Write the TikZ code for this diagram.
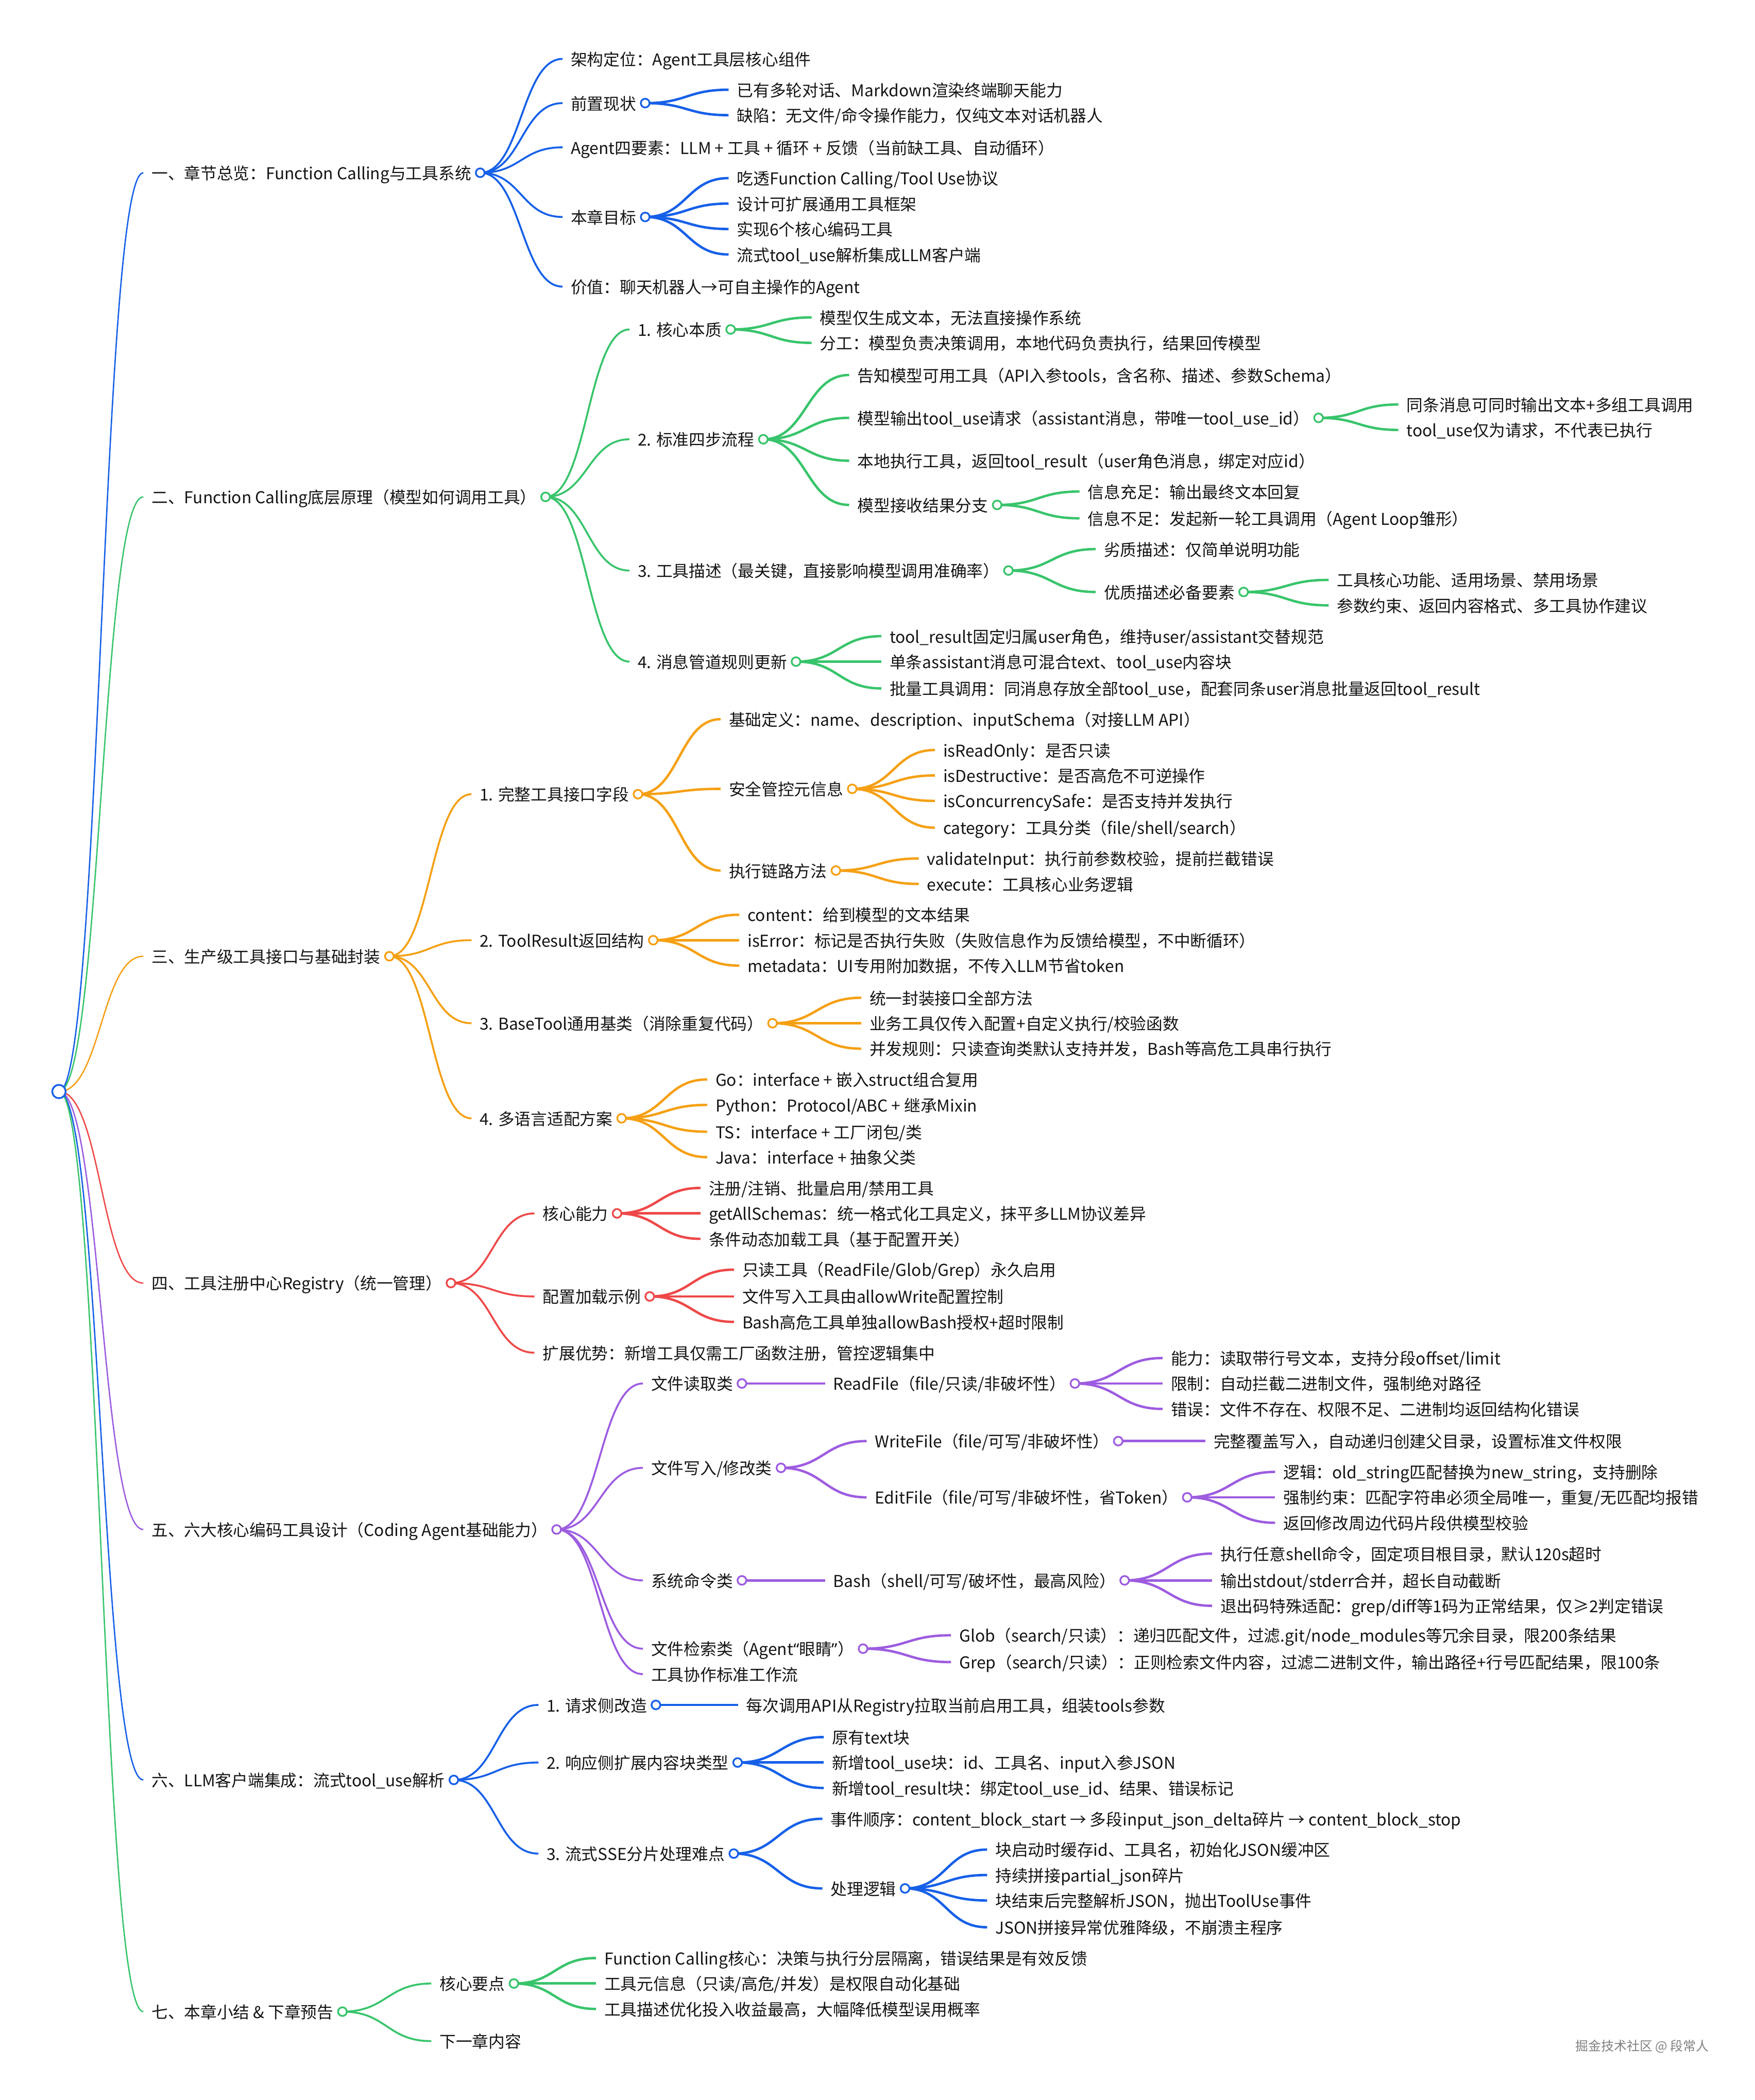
\documentclass[tikz,border=0pt]{standalone}
\usepackage{fontspec}
\setmainfont{Noto Sans CJK SC}
\newfontfamily\latinq{Noto Sans}
\usetikzlibrary{calc}
\pgfdeclarelayer{back}
\pgfdeclarelayer{bg}
\pgfsetlayers{back,bg,main}
\definecolor{cB}{RGB}{22,96,232}
\definecolor{cG}{RGB}{56,196,107}
\definecolor{cO}{RGB}{245,160,20}
\definecolor{cR}{RGB}{238,72,72}
\definecolor{cP}{RGB}{157,92,224}
\definecolor{ink}{RGB}{20,20,20}
\tikzset{
  txt/.style={anchor=west, inner sep=0pt, text height=12pt, text depth=2pt,
    font=\fontsize{12.2}{14}\selectfont, text=ink},
  dot/.style={circle, fill=white, inner sep=0pt, minimum size=6.5pt, line width=1.3pt},
  rootdot/.style={circle, draw=cB, fill=white, inner sep=0pt, minimum size=10pt, line width=1.3pt},
  w1/.style={line width=1.0pt},
  w2/.style={line width=1.4pt},
  w3/.style={line width=1.8pt},
  w4/.style={line width=1.8pt},
}
\newcommand\mmT[4]{\node[txt] (#1) at (#2,#3) {#4};}
\newcommand\mmC[2]{\node[dot,draw=#2] (#1-o) at ($(#1.east)+(6.5,0)$) {};}
\newcommand\mmL[3]{\begin{pgfonlayer}{bg}\draw[#3] let \p1=(#1), \p2=($(#2.west)+(-6,0)$) in
  (\p1) .. controls ({0.5*\x1+0.5*\x2},\y1) and ({0.5*\x1+0.5*\x2},\y2) .. (\p2);\end{pgfonlayer}}
\begin{document}
\begin{tikzpicture}[x=1pt,y=-1pt]
\begin{pgfonlayer}{back}
\fill[white] (0,0) rectangle (1310,1568);
\end{pgfonlayer}
\useasboundingbox (0,0) rectangle (1310,1568);

\node[rootdot] (root) at (44,815) {};

% ---------------- Branch 1 (blue)
\mmT{n1}{113}{129}{一、章节总览：Function Calling与工具系统}\mmC{n1}{cB}
\mmT{n1a}{426}{44}{架构定位：Agent工具层核心组件}
\mmT{n1b}{426}{77}{前置现状}\mmC{n1b}{cB}
\mmT{n1b1}{550}{67}{已有多轮对话、Markdown渲染终端聊天能力}
\mmT{n1b2}{550}{86}{缺陷：无文件/命令操作能力，仅纯文本对话机器人}
\mmT{n1c}{426}{110}{Agent四要素：LLM + 工具 + 循环 + 反馈（当前缺工具、自动循环）}
\mmT{n1d}{426}{162}{本章目标}\mmC{n1d}{cB}
\mmT{n1d1}{550}{133}{吃透Function Calling/Tool Use协议}
\mmT{n1d2}{550}{152}{设计可扩展通用工具框架}
\mmT{n1d3}{550}{171}{实现6个核心编码工具}
\mmT{n1d4}{550}{190}{流式tool\_use解析集成LLM客户端}
\mmT{n1e}{426}{214}{价值：聊天机器人→可自主操作的Agent}

\mmL{root}{n1}{cB,w1}
\mmL{n1-o}{n1a}{cB,w2}\mmL{n1-o}{n1b}{cB,w2}\mmL{n1-o}{n1c}{cB,w2}\mmL{n1-o}{n1d}{cB,w2}\mmL{n1-o}{n1e}{cB,w2}
\mmL{n1b-o}{n1b1}{cB,w3}\mmL{n1b-o}{n1b2}{cB,w3}
\mmL{n1d-o}{n1d1}{cB,w3}\mmL{n1d-o}{n1d2}{cB,w3}\mmL{n1d-o}{n1d3}{cB,w3}\mmL{n1d-o}{n1d4}{cB,w3}

% ---------------- Branch 2 (green)
\mmT{n2}{113}{371}{二、Function Calling底层原理（模型如何调用工具）}\mmC{n2}{cG}
\mmT{n2a}{476}{246}{1. 核心本质}\mmC{n2a}{cG}
\mmT{n2a1}{612}{237}{模型仅生成文本，无法直接操作系统}
\mmT{n2a2}{612}{256}{分工：模型负责决策调用，本地代码负责执行，结果回传模型}
\mmT{n2b}{476}{328}{2. 标准四步流程}\mmC{n2b}{cG}
\mmT{n2b1}{640}{280}{告知模型可用工具（API入参tools，含名称、描述、参数Schema）}
\mmT{n2b2}{640}{312}{模型输出tool\_use请求（assistant消息，带唯一tool\_use\_id）}\mmC{n2b2}{cG}
\mmT{n2b2a}{1050}{302}{同条消息可同时输出文本+多组工具调用}
\mmT{n2b2b}{1050}{321}{tool\_use仅为请求，不代表已执行}
\mmT{n2b3}{640}{344}{本地执行工具，返回tool\_result（user角色消息，绑定对应id）}
\mmT{n2b4}{640}{377}{模型接收结果分支}\mmC{n2b4}{cG}
\mmT{n2b4a}{812}{367}{信息充足：输出最终文本回复}
\mmT{n2b4b}{812}{387}{信息不足：发起新一轮工具调用（Agent Loop雏形）}
\mmT{n2c}{476}{426}{3. 工具描述（最关键，直接影响模型调用准确率）}\mmC{n2c}{cG}
\mmT{n2c1}{824}{410}{劣质描述：仅简单说明功能}
\mmT{n2c2}{824}{442}{优质描述必备要素}\mmC{n2c2}{cG}
\mmT{n2c2a}{998}{433}{工具核心功能、适用场景、禁用场景}
\mmT{n2c2b}{998}{452}{参数约束、返回内容格式、多工具协作建议}
\mmT{n2d}{476}{494}{4. 消息管道规则更新}\mmC{n2d}{cG}
\mmT{n2d1}{664}{475}{tool\_result固定归属user角色，维持user/assistant交替规范}
\mmT{n2d2}{664}{494}{单条assistant消息可混合text、tool\_use内容块}
\mmT{n2d3}{664}{514}{批量工具调用：同消息存放全部tool\_use，配套同条user消息批量返回tool\_result}

\mmL{root}{n2}{cG,w1}
\mmL{n2-o}{n2a}{cG,w2}\mmL{n2-o}{n2b}{cG,w2}\mmL{n2-o}{n2c}{cG,w2}\mmL{n2-o}{n2d}{cG,w2}
\mmL{n2a-o}{n2a1}{cG,w3}\mmL{n2a-o}{n2a2}{cG,w3}
\mmL{n2b-o}{n2b1}{cG,w3}\mmL{n2b-o}{n2b2}{cG,w3}\mmL{n2b-o}{n2b3}{cG,w3}\mmL{n2b-o}{n2b4}{cG,w3}
\mmL{n2b2-o}{n2b2a}{cG,w4}\mmL{n2b2-o}{n2b2b}{cG,w4}
\mmL{n2b4-o}{n2b4a}{cG,w4}\mmL{n2b4-o}{n2b4b}{cG,w4}
\mmL{n2c-o}{n2c1}{cG,w3}\mmL{n2c-o}{n2c2}{cG,w3}
\mmL{n2c2-o}{n2c2a}{cG,w4}\mmL{n2c2-o}{n2c2b}{cG,w4}
\mmL{n2d-o}{n2d1}{cG,w3}\mmL{n2d-o}{n2d2}{cG,w3}\mmL{n2d-o}{n2d3}{cG,w3}

% ---------------- Branch 3 (orange)
\mmT{n3}{113}{714}{三、生产级工具接口与基础封装}\mmC{n3}{cO}
\mmT{n3a}{358}{593}{1. 完整工具接口字段}\mmC{n3a}{cO}
\mmT{n3a1}{544}{537}{基础定义：name、description、inputSchema（对接LLM API）}
\mmT{n3a2}{544}{589}{安全管控元信息}\mmC{n3a2}{cO}
\mmT{n3a2a}{704}{560}{isReadOnly：是否只读}
\mmT{n3a2b}{704}{579}{isDestructive：是否高危不可逆操作}
\mmT{n3a2c}{704}{598}{isConcurrencySafe：是否支持并发执行}
\mmT{n3a2d}{704}{618}{category：工具分类（file/shell/search）}
\mmT{n3a3}{544}{650}{执行链路方法}\mmC{n3a3}{cO}
\mmT{n3a3a}{692}{641}{validateInput：执行前参数校验，提前拦截错误}
\mmT{n3a3b}{692}{660}{execute：工具核心业务逻辑}
\mmT{n3b}{358}{702}{2. ToolResult返回结构}\mmC{n3b}{cO}
\mmT{n3b1}{558}{683}{content：给到模型的文本结果}
\mmT{n3b2}{558}{702}{isError：标记是否执行失败（失败信息作为反馈给模型，不中断循环）}
\mmT{n3b3}{558}{721}{metadata：UI专用附加数据，不传入LLM节省token}
\mmT{n3c}{358}{764}{3. BaseTool通用基类（消除重复代码）}\mmC{n3c}{cO}
\mmT{n3c1}{649}{745}{统一封装接口全部方法}
\mmT{n3c2}{649}{764}{业务工具仅传入配置+自定义执行/校验函数}
\mmT{n3c3}{649}{783}{并发规则：只读查询类默认支持并发，Bash等高危工具串行执行}
\mmT{n3d}{358}{835}{4. 多语言适配方案}\mmC{n3d}{cO}
\mmT{n3d1}{534}{806}{Go：interface + 嵌入struct组合复用}
\mmT{n3d2}{534}{825}{Python：Protocol/ABC + 继承Mixin}
\mmT{n3d3}{534}{845}{TS：interface + 工厂闭包/类}
\mmT{n3d4}{534}{864}{Java：interface + 抽象父类}

\mmL{root}{n3}{cO,w1}
\mmL{n3-o}{n3a}{cO,w2}\mmL{n3-o}{n3b}{cO,w2}\mmL{n3-o}{n3c}{cO,w2}\mmL{n3-o}{n3d}{cO,w2}
\mmL{n3a-o}{n3a1}{cO,w3}\mmL{n3a-o}{n3a2}{cO,w3}\mmL{n3a-o}{n3a3}{cO,w3}
\mmL{n3a2-o}{n3a2a}{cO,w4}\mmL{n3a2-o}{n3a2b}{cO,w4}\mmL{n3a2-o}{n3a2c}{cO,w4}\mmL{n3a2-o}{n3a2d}{cO,w4}
\mmL{n3a3-o}{n3a3a}{cO,w4}\mmL{n3a3-o}{n3a3b}{cO,w4}
\mmL{n3b-o}{n3b1}{cO,w3}\mmL{n3b-o}{n3b2}{cO,w3}\mmL{n3b-o}{n3b3}{cO,w3}
\mmL{n3c-o}{n3c1}{cO,w3}\mmL{n3c-o}{n3c2}{cO,w3}\mmL{n3c-o}{n3c3}{cO,w3}
\mmL{n3d-o}{n3d1}{cO,w3}\mmL{n3d-o}{n3d2}{cO,w3}\mmL{n3d-o}{n3d3}{cO,w3}\mmL{n3d-o}{n3d4}{cO,w3}

% ---------------- Branch 4 (red)
\mmT{n4}{113}{958}{四、工具注册中心Registry（统一管理）}\mmC{n4}{cR}
\mmT{n4a}{405}{906}{核心能力}\mmC{n4a}{cR}
\mmT{n4a1}{529}{887}{注册/注销、批量启用/禁用工具}
\mmT{n4a2}{529}{906}{getAllSchemas：统一格式化工具定义，抹平多LLM协议差异}
\mmT{n4a3}{529}{925}{条件动态加载工具（基于配置开关）}
\mmT{n4b}{405}{968}{配置加载示例}\mmC{n4b}{cR}
\mmT{n4b1}{554}{948}{只读工具（ReadFile/Glob/Grep）永久启用}
\mmT{n4b2}{554}{968}{文件写入工具由allowWrite配置控制}
\mmT{n4b3}{554}{987}{Bash高危工具单独allowBash授权+超时限制}
\mmT{n4c}{405}{1010}{扩展优势：新增工具仅需工厂函数注册，管控逻辑集中}

\mmL{root}{n4}{cR,w1}
\mmL{n4-o}{n4a}{cR,w2}\mmL{n4-o}{n4b}{cR,w2}\mmL{n4-o}{n4c}{cR,w2}
\mmL{n4a-o}{n4a1}{cR,w3}\mmL{n4a-o}{n4a2}{cR,w3}\mmL{n4a-o}{n4a3}{cR,w3}
\mmL{n4b-o}{n4b1}{cR,w3}\mmL{n4b-o}{n4b2}{cR,w3}\mmL{n4b-o}{n4b3}{cR,w3}

% ---------------- Branch 5 (purple)
\mmT{n5}{113}{1142}{五、六大核心编码工具设计（Coding Agent基础能力）}\mmC{n5}{cP}
\mmT{n5a}{486}{1033}{文件读取类}\mmC{n5a}{cP}
\mmT{n5a1}{622}{1033}{ReadFile（file/只读/非破坏性）}\mmC{n5a1}{cP}
\mmT{n5a1a}{874}{1014}{能力：读取带行号文本，支持分段offset/limit}
\mmT{n5a1b}{874}{1033}{限制：自动拦截二进制文件，强制绝对路径}
\mmT{n5a1c}{874}{1052}{错误：文件不存在、权限不足、二进制均返回结构化错误}
\mmT{n5b}{486}{1096}{文件写入/修改类}\mmC{n5b}{cP}
\mmT{n5b1}{653}{1076}{WriteFile（file/可写/非破坏性）}\mmC{n5b1}{cP}
\mmT{n5b1a}{906}{1076}{完整覆盖写入，自动递归创建父目录，设置标准文件权限}
\mmT{n5b2}{653}{1118}{EditFile（file/可写/非破坏性，省Token）}\mmC{n5b2}{cP}
\mmT{n5b2a}{958}{1099}{逻辑：old\_string匹配替换为new\_string，支持删除}
\mmT{n5b2b}{958}{1118}{强制约束：匹配字符串必须全局唯一，重复/无匹配均报错}
\mmT{n5b2c}{958}{1137}{返回修改周边代码片段供模型校验}
\mmT{n5c}{486}{1180}{系统命令类}\mmC{n5c}{cP}
\mmT{n5c1}{622}{1180}{Bash（shell/可写/破坏性，最高风险）}\mmC{n5c1}{cP}
\mmT{n5c1a}{911}{1160}{执行任意shell命令，固定项目根目录，默认120s超时}
\mmT{n5c1b}{911}{1180}{输出stdout/stderr合并，超长自动截断}
\mmT{n5c1c}{911}{1199}{退出码特殊适配：grep/diff等1码为正常结果，仅≥2判定错误}
\mmT{n5d}{486}{1231}{文件检索类（Agent{\latinq “}眼睛{\latinq ”}）}\mmC{n5d}{cP}
\mmT{n5d1}{716}{1221}{Glob（search/只读）：递归匹配文件，过滤.git/node\_modules等冗余目录，限200条结果}
\mmT{n5d2}{716}{1241}{Grep（search/只读）：正则检索文件内容，过滤二进制文件，输出路径+行号匹配结果，限100条}
\mmT{n5e}{486}{1250}{工具协作标准工作流}

\mmL{root}{n5}{cP,w1}
\mmL{n5-o}{n5a}{cP,w2}\mmL{n5-o}{n5b}{cP,w2}\mmL{n5-o}{n5c}{cP,w2}\mmL{n5-o}{n5d}{cP,w2}\mmL{n5-o}{n5e}{cP,w2}
\mmL{n5a-o}{n5a1}{cP,w3}
\mmL{n5a1-o}{n5a1a}{cP,w4}\mmL{n5a1-o}{n5a1b}{cP,w4}\mmL{n5a1-o}{n5a1c}{cP,w4}
\mmL{n5b-o}{n5b1}{cP,w3}\mmL{n5b-o}{n5b2}{cP,w3}
\mmL{n5b1-o}{n5b1a}{cP,w4}
\mmL{n5b2-o}{n5b2a}{cP,w4}\mmL{n5b2-o}{n5b2b}{cP,w4}\mmL{n5b2-o}{n5b2c}{cP,w4}
\mmL{n5c-o}{n5c1}{cP,w3}
\mmL{n5c1-o}{n5c1a}{cP,w4}\mmL{n5c1-o}{n5c1b}{cP,w4}\mmL{n5c1-o}{n5c1c}{cP,w4}
\mmL{n5d-o}{n5d1}{cP,w3}\mmL{n5d-o}{n5d2}{cP,w3}

% ---------------- Branch 6 (blue)
\mmT{n6}{113}{1329}{六、LLM客户端集成：流式tool\_use解析}\mmC{n6}{cB}
\mmT{n6a}{408}{1273}{1. 请求侧改造}\mmC{n6a}{cB}
\mmT{n6a1}{557}{1273}{每次调用API从Registry拉取当前启用工具，组装tools参数}
\mmT{n6b}{408}{1316}{2. 响应侧扩展内容块类型}\mmC{n6b}{cB}
\mmT{n6b1}{621}{1297}{原有text块}
\mmT{n6b2}{621}{1316}{新增tool\_use块：id、工具名、input入参JSON}
\mmT{n6b3}{621}{1335}{新增tool\_result块：绑定tool\_use\_id、结果、错误标记}
\mmT{n6c}{408}{1384}{3. 流式SSE分片处理难点}\mmC{n6c}{cB}
\mmT{n6c1}{620}{1358}{事件顺序：content\_block\_start → 多段input\_json\_delta碎片 → content\_block\_stop}
\mmT{n6c2}{620}{1410}{处理逻辑}\mmC{n6c2}{cB}
\mmT{n6c2a}{743}{1381}{块启动时缓存id、工具名，初始化JSON缓冲区}
\mmT{n6c2b}{743}{1400}{持续拼接partial\_json碎片}
\mmT{n6c2c}{743}{1419}{块结束后完整解析JSON，抛出ToolUse事件}
\mmT{n6c2d}{743}{1439}{JSON拼接异常优雅降级，不崩溃主程序}

\mmL{root}{n6}{cB,w1}
\mmL{n6-o}{n6a}{cB,w2}\mmL{n6-o}{n6b}{cB,w2}\mmL{n6-o}{n6c}{cB,w2}
\mmL{n6a-o}{n6a1}{cB,w3}
\mmL{n6b-o}{n6b1}{cB,w3}\mmL{n6b-o}{n6b2}{cB,w3}\mmL{n6b-o}{n6b3}{cB,w3}
\mmL{n6c-o}{n6c1}{cB,w3}\mmL{n6c-o}{n6c2}{cB,w3}
\mmL{n6c2-o}{n6c2a}{cB,w4}\mmL{n6c2-o}{n6c2b}{cB,w4}\mmL{n6c2-o}{n6c2c}{cB,w4}\mmL{n6c2-o}{n6c2d}{cB,w4}

% ---------------- Branch 7 (green)
\mmT{n7}{113}{1502}{七、本章小结 \& 下章预告}\mmC{n7}{cG}
\mmT{n7a}{328}{1481}{核心要点}\mmC{n7a}{cG}
\mmT{n7a1}{451}{1462}{Function Calling核心：决策与执行分层隔离，错误结果是有效反馈}
\mmT{n7a2}{451}{1481}{工具元信息（只读/高危/并发）是权限自动化基础}
\mmT{n7a3}{451}{1500}{工具描述优化投入收益最高，大幅降低模型误用概率}
\mmT{n7b}{328}{1524}{下一章内容}

\mmL{root}{n7}{cG,w1}
\mmL{n7-o}{n7a}{cG,w2}\mmL{n7-o}{n7b}{cG,w2}
\mmL{n7a-o}{n7a1}{cG,w3}\mmL{n7a-o}{n7a2}{cG,w3}\mmL{n7a-o}{n7a3}{cG,w3}

% watermark
\node[anchor=west, inner sep=0pt, text=black!50, font=\fontsize{9.6}{11}\selectfont] (wm) at (1176,1528) {掘金技术社区 @ 段常人};
\end{tikzpicture}
\end{document}
